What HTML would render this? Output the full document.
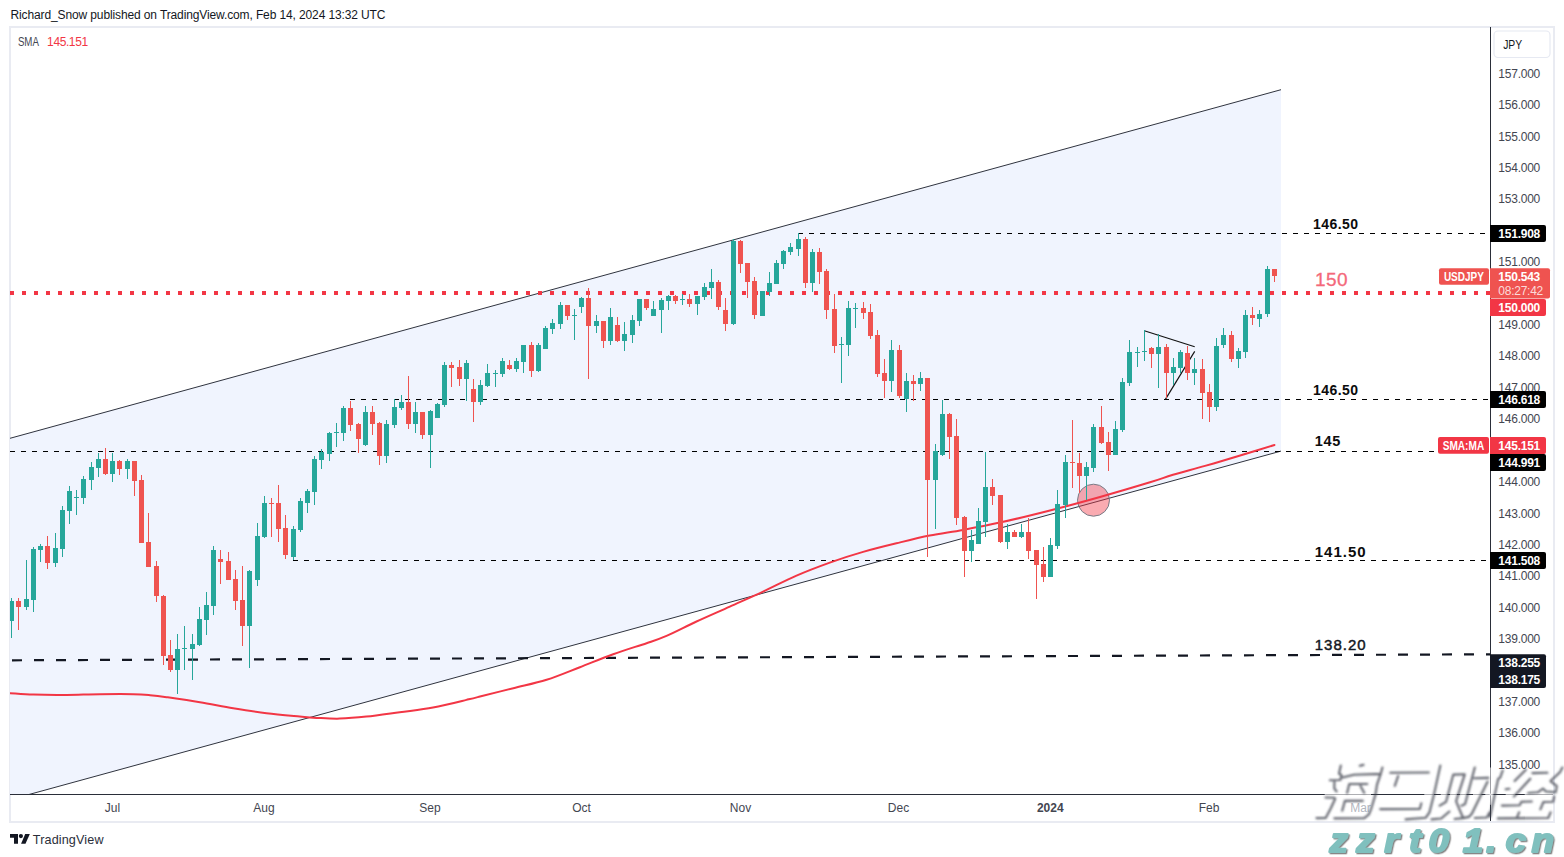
<!DOCTYPE html><html><head><meta charset="utf-8"><title>USDJPY</title>
<style>html,body{margin:0;padding:0;background:#fff;}svg{display:block;}text{font-family:"Liberation Sans",sans-serif;}</style></head><body>
<svg width="1564" height="857" viewBox="0 0 1564 857">
<defs><clipPath id="pane"><rect x="10" y="28" width="1480.5" height="766.5"/></clipPath>
<filter id="ds" x="-5%" y="-10%" width="110%" height="130%"><feDropShadow dx="1.5" dy="1.5" stdDeviation="0.9" flood-color="#4a4d57" flood-opacity="0.8"/></filter>
<filter id="ds2" x="-5%" y="-20%" width="110%" height="150%"><feDropShadow dx="1.3" dy="1.3" stdDeviation="0.6" flood-color="#555" flood-opacity="0.7"/></filter>
<filter id="blur1" x="-5%" y="-10%" width="110%" height="120%"><feGaussianBlur stdDeviation="0.8"/></filter>
</defs>
<rect width="1564" height="857" fill="#fff"/>
<rect x="10" y="27" width="1544" height="795" fill="none" stroke="#e9ebf2" stroke-width="2"/>
<text x="10.5" y="19.2" font-size="12" fill="#131722" textLength="375" lengthAdjust="spacing">Richard_Snow published on TradingView.com, Feb 14, 2024 13:32 UTC</text>
<g clip-path="url(#pane)">
<polygon points="10,438.3 1281,89.7 1281,451.1 10,799.7" fill="#f0f4fe"/>
<line x1="10" y1="438.3" x2="1281" y2="89.7" stroke="#2f333e" stroke-width="1"/>
<line x1="10" y1="799.7" x2="1281" y2="451.1" stroke="#2f333e" stroke-width="1"/>
<line x1="798" y1="233.5" x2="1491" y2="233.5" stroke="#000" stroke-width="1.2" stroke-dasharray="5 6"/>
<line x1="350" y1="399.5" x2="1491" y2="399.5" stroke="#000" stroke-width="1.2" stroke-dasharray="5 6"/>
<line x1="10" y1="451.5" x2="1491" y2="451.5" stroke="#000" stroke-width="1.2" stroke-dasharray="5 6"/>
<line x1="293" y1="560.5" x2="1491" y2="560.5" stroke="#000" stroke-width="1.2" stroke-dasharray="5 6"/>
<line x1="-10" y1="660.4" x2="1491" y2="654.3" stroke="#131722" stroke-width="2.2" stroke-dasharray="10 12"/>
<line x1="10" y1="293" x2="1491" y2="293" stroke="#f23645" stroke-width="4" stroke-dasharray="4 8"/>
<circle cx="1093.5" cy="500.2" r="16" fill="#f23645" fill-opacity="0.42" stroke="#787b86" stroke-width="1"/>
<path d="M10.0,693.2 C13.9,693.4 23.9,694.3 33.3,694.6 C42.7,694.9 55.5,695.0 66.6,694.9 C77.7,694.8 88.9,694.3 100.0,694.2 C111.1,694.1 124.9,694.0 133.2,694.2 C141.5,694.4 144.4,694.7 150.0,695.2 C155.6,695.7 158.3,696.0 166.6,697.2 C174.9,698.4 188.8,700.4 199.9,702.2 C211.0,704.0 222.1,706.4 233.2,708.2 C244.3,710.0 255.4,711.8 266.5,713.2 C277.6,714.6 291.5,715.8 299.8,716.6 C308.1,717.4 309.8,717.6 316.5,717.9 C323.2,718.2 331.5,718.8 339.8,718.6 C348.1,718.4 356.4,717.7 366.4,716.6 C376.4,715.5 388.6,713.7 399.7,712.2 C410.8,710.7 421.9,709.7 433.0,707.6 C444.1,705.5 458.6,701.8 466.4,699.9 C474.2,698.0 472.2,698.5 480.0,696.5 C487.8,694.5 502.2,691.0 513.3,688.2 C524.4,685.4 535.5,683.3 546.6,679.8 C557.7,676.3 568.8,671.5 579.9,667.2 C591.0,662.9 602.1,658.2 613.2,654.2 C624.3,650.2 637.7,646.2 646.6,643.2 C655.5,640.2 658.2,639.5 666.5,635.9 C674.8,632.3 686.0,626.4 696.5,621.5 C707.0,616.6 718.7,611.6 729.8,606.6 C740.9,601.6 752.0,596.8 763.1,591.6 C774.2,586.4 785.4,580.4 796.5,575.6 C807.6,570.8 818.7,566.6 829.8,562.6 C840.9,558.6 852.0,555.1 863.1,551.9 C874.2,548.7 885.3,546.0 896.4,543.3 C907.5,540.6 918.6,537.8 929.7,535.6 C940.8,533.4 951.1,532.1 963.0,529.9 C974.9,527.7 986.5,525.5 1001.0,522.3 C1015.5,519.1 1033.5,514.7 1050.0,510.5 C1066.5,506.3 1083.3,501.7 1100.0,497.0 C1116.7,492.3 1137.8,486.0 1150.0,482.3 C1162.2,478.6 1163.8,477.5 1173.0,474.8 C1182.2,472.1 1194.2,469.0 1205.0,465.9 C1215.8,462.8 1226.1,459.8 1237.7,456.3 C1249.3,452.8 1268.4,446.9 1274.5,445.0" fill="none" stroke="#f23645" stroke-width="2" stroke-linejoin="round" stroke-linecap="round"/>
<line x1="1144.3" y1="330.8" x2="1194.7" y2="346.8" stroke="#111" stroke-width="1.15"/>
<line x1="1165.4" y1="399.4" x2="1194.7" y2="351.4" stroke="#111" stroke-width="1.15"/>
<rect x="11" y="598" width="1" height="40" fill="#26a69a"/>
<rect x="9" y="601" width="5" height="20" fill="#26a69a"/>
<rect x="18" y="598" width="1" height="32" fill="#ef5350"/>
<rect x="16" y="601" width="5" height="6" fill="#ef5350"/>
<rect x="26" y="560" width="1" height="50" fill="#26a69a"/>
<rect x="24" y="599" width="5" height="8" fill="#26a69a"/>
<rect x="33" y="547" width="1" height="65" fill="#26a69a"/>
<rect x="31" y="549" width="5" height="51" fill="#26a69a"/>
<rect x="40" y="544" width="1" height="18" fill="#26a69a"/>
<rect x="38" y="546" width="5" height="4" fill="#26a69a"/>
<rect x="47" y="536" width="1" height="33" fill="#ef5350"/>
<rect x="45" y="546" width="5" height="17" fill="#ef5350"/>
<rect x="55" y="533" width="1" height="34" fill="#26a69a"/>
<rect x="53" y="548" width="5" height="15" fill="#26a69a"/>
<rect x="62" y="506" width="1" height="51" fill="#26a69a"/>
<rect x="60" y="510" width="5" height="39" fill="#26a69a"/>
<rect x="69" y="486" width="1" height="38" fill="#26a69a"/>
<rect x="67" y="491" width="5" height="20" fill="#26a69a"/>
<rect x="76" y="490" width="1" height="25" fill="#26a69a"/>
<rect x="74" y="497" width="5" height="1" fill="#26a69a"/>
<rect x="83" y="476" width="1" height="28" fill="#26a69a"/>
<rect x="81" y="479" width="5" height="19" fill="#26a69a"/>
<rect x="91" y="462" width="1" height="28" fill="#26a69a"/>
<rect x="89" y="467" width="5" height="13" fill="#26a69a"/>
<rect x="98" y="453" width="1" height="24" fill="#26a69a"/>
<rect x="96" y="459" width="5" height="9" fill="#26a69a"/>
<rect x="105" y="448" width="1" height="27" fill="#ef5350"/>
<rect x="103" y="459" width="5" height="15" fill="#ef5350"/>
<rect x="112" y="453" width="1" height="29" fill="#26a69a"/>
<rect x="110" y="461" width="5" height="13" fill="#26a69a"/>
<rect x="119" y="460" width="1" height="15" fill="#ef5350"/>
<rect x="117" y="461" width="5" height="8" fill="#ef5350"/>
<rect x="127" y="459" width="1" height="20" fill="#26a69a"/>
<rect x="125" y="461" width="5" height="8" fill="#26a69a"/>
<rect x="134" y="461" width="1" height="35" fill="#ef5350"/>
<rect x="132" y="461" width="5" height="20" fill="#ef5350"/>
<rect x="141" y="475" width="1" height="68" fill="#ef5350"/>
<rect x="139" y="480" width="5" height="63" fill="#ef5350"/>
<rect x="148" y="513" width="1" height="54" fill="#ef5350"/>
<rect x="146" y="542" width="5" height="25" fill="#ef5350"/>
<rect x="156" y="561" width="1" height="41" fill="#ef5350"/>
<rect x="154" y="566" width="5" height="30" fill="#ef5350"/>
<rect x="163" y="595" width="1" height="70" fill="#ef5350"/>
<rect x="161" y="596" width="5" height="60" fill="#ef5350"/>
<rect x="170" y="640" width="1" height="32" fill="#ef5350"/>
<rect x="168" y="655" width="5" height="15" fill="#ef5350"/>
<rect x="177" y="634" width="1" height="60" fill="#26a69a"/>
<rect x="175" y="649" width="5" height="21" fill="#26a69a"/>
<rect x="184" y="626" width="1" height="44" fill="#26a69a"/>
<rect x="182" y="648" width="5" height="1" fill="#26a69a"/>
<rect x="192" y="634" width="1" height="46" fill="#26a69a"/>
<rect x="190" y="644" width="5" height="5" fill="#26a69a"/>
<rect x="199" y="607" width="1" height="39" fill="#26a69a"/>
<rect x="197" y="619" width="5" height="26" fill="#26a69a"/>
<rect x="206" y="592" width="1" height="43" fill="#26a69a"/>
<rect x="204" y="605" width="5" height="15" fill="#26a69a"/>
<rect x="213" y="546" width="1" height="69" fill="#26a69a"/>
<rect x="211" y="550" width="5" height="56" fill="#26a69a"/>
<rect x="220" y="550" width="1" height="34" fill="#ef5350"/>
<rect x="218" y="559" width="5" height="3" fill="#ef5350"/>
<rect x="228" y="552" width="1" height="28" fill="#ef5350"/>
<rect x="226" y="561" width="5" height="19" fill="#ef5350"/>
<rect x="235" y="570" width="1" height="40" fill="#ef5350"/>
<rect x="233" y="579" width="5" height="22" fill="#ef5350"/>
<rect x="242" y="566" width="1" height="80" fill="#ef5350"/>
<rect x="240" y="600" width="5" height="26" fill="#ef5350"/>
<rect x="249" y="570" width="1" height="98" fill="#26a69a"/>
<rect x="247" y="571" width="5" height="55" fill="#26a69a"/>
<rect x="257" y="523" width="1" height="63" fill="#26a69a"/>
<rect x="255" y="536" width="5" height="44" fill="#26a69a"/>
<rect x="264" y="496" width="1" height="42" fill="#26a69a"/>
<rect x="262" y="503" width="5" height="34" fill="#26a69a"/>
<rect x="271" y="498" width="1" height="39" fill="#ef5350"/>
<rect x="269" y="503" width="5" height="1" fill="#ef5350"/>
<rect x="278" y="485" width="1" height="57" fill="#ef5350"/>
<rect x="276" y="503" width="5" height="26" fill="#ef5350"/>
<rect x="285" y="515" width="1" height="44" fill="#ef5350"/>
<rect x="283" y="528" width="5" height="27" fill="#ef5350"/>
<rect x="293" y="526" width="1" height="34" fill="#26a69a"/>
<rect x="291" y="529" width="5" height="28" fill="#26a69a"/>
<rect x="300" y="498" width="1" height="34" fill="#26a69a"/>
<rect x="298" y="501" width="5" height="29" fill="#26a69a"/>
<rect x="307" y="489" width="1" height="24" fill="#26a69a"/>
<rect x="305" y="491" width="5" height="12" fill="#26a69a"/>
<rect x="314" y="456" width="1" height="49" fill="#26a69a"/>
<rect x="312" y="459" width="5" height="33" fill="#26a69a"/>
<rect x="321" y="449" width="1" height="20" fill="#26a69a"/>
<rect x="319" y="452" width="5" height="8" fill="#26a69a"/>
<rect x="329" y="432" width="1" height="29" fill="#26a69a"/>
<rect x="327" y="433" width="5" height="21" fill="#26a69a"/>
<rect x="336" y="423" width="1" height="24" fill="#26a69a"/>
<rect x="334" y="432" width="5" height="1" fill="#26a69a"/>
<rect x="343" y="406" width="1" height="35" fill="#26a69a"/>
<rect x="341" y="408" width="5" height="25" fill="#26a69a"/>
<rect x="350" y="401" width="1" height="30" fill="#ef5350"/>
<rect x="348" y="408" width="5" height="17" fill="#ef5350"/>
<rect x="358" y="423" width="1" height="30" fill="#ef5350"/>
<rect x="356" y="424" width="5" height="15" fill="#ef5350"/>
<rect x="365" y="406" width="1" height="40" fill="#26a69a"/>
<rect x="363" y="412" width="5" height="33" fill="#26a69a"/>
<rect x="372" y="406" width="1" height="29" fill="#ef5350"/>
<rect x="370" y="412" width="5" height="12" fill="#ef5350"/>
<rect x="379" y="422" width="1" height="43" fill="#ef5350"/>
<rect x="377" y="423" width="5" height="33" fill="#ef5350"/>
<rect x="386" y="420" width="1" height="43" fill="#26a69a"/>
<rect x="384" y="424" width="5" height="32" fill="#26a69a"/>
<rect x="394" y="399" width="1" height="29" fill="#26a69a"/>
<rect x="392" y="407" width="5" height="18" fill="#26a69a"/>
<rect x="401" y="395" width="1" height="15" fill="#26a69a"/>
<rect x="399" y="402" width="5" height="6" fill="#26a69a"/>
<rect x="408" y="376" width="1" height="53" fill="#ef5350"/>
<rect x="406" y="402" width="5" height="22" fill="#ef5350"/>
<rect x="415" y="402" width="1" height="31" fill="#26a69a"/>
<rect x="413" y="412" width="5" height="12" fill="#26a69a"/>
<rect x="422" y="412" width="1" height="27" fill="#ef5350"/>
<rect x="420" y="412" width="5" height="23" fill="#ef5350"/>
<rect x="430" y="410" width="1" height="58" fill="#26a69a"/>
<rect x="428" y="411" width="5" height="24" fill="#26a69a"/>
<rect x="437" y="403" width="1" height="15" fill="#26a69a"/>
<rect x="435" y="404" width="5" height="14" fill="#26a69a"/>
<rect x="444" y="362" width="1" height="45" fill="#26a69a"/>
<rect x="442" y="365" width="5" height="40" fill="#26a69a"/>
<rect x="451" y="362" width="1" height="25" fill="#ef5350"/>
<rect x="449" y="365" width="5" height="3" fill="#ef5350"/>
<rect x="459" y="360" width="1" height="26" fill="#ef5350"/>
<rect x="457" y="367" width="5" height="12" fill="#ef5350"/>
<rect x="466" y="360" width="1" height="41" fill="#26a69a"/>
<rect x="464" y="363" width="5" height="16" fill="#26a69a"/>
<rect x="473" y="379" width="1" height="43" fill="#ef5350"/>
<rect x="471" y="389" width="5" height="13" fill="#ef5350"/>
<rect x="480" y="380" width="1" height="25" fill="#26a69a"/>
<rect x="478" y="385" width="5" height="17" fill="#26a69a"/>
<rect x="487" y="364" width="1" height="23" fill="#26a69a"/>
<rect x="485" y="373" width="5" height="13" fill="#26a69a"/>
<rect x="495" y="370" width="1" height="17" fill="#26a69a"/>
<rect x="493" y="373" width="5" height="1" fill="#26a69a"/>
<rect x="502" y="358" width="1" height="19" fill="#26a69a"/>
<rect x="500" y="361" width="5" height="13" fill="#26a69a"/>
<rect x="509" y="360" width="1" height="10" fill="#ef5350"/>
<rect x="507" y="365" width="5" height="4" fill="#ef5350"/>
<rect x="516" y="358" width="1" height="14" fill="#26a69a"/>
<rect x="514" y="361" width="5" height="8" fill="#26a69a"/>
<rect x="523" y="345" width="1" height="28" fill="#26a69a"/>
<rect x="521" y="345" width="5" height="17" fill="#26a69a"/>
<rect x="531" y="342" width="1" height="35" fill="#ef5350"/>
<rect x="529" y="345" width="5" height="26" fill="#ef5350"/>
<rect x="538" y="343" width="1" height="29" fill="#26a69a"/>
<rect x="536" y="345" width="5" height="26" fill="#26a69a"/>
<rect x="545" y="326" width="1" height="23" fill="#26a69a"/>
<rect x="543" y="328" width="5" height="21" fill="#26a69a"/>
<rect x="552" y="319" width="1" height="15" fill="#26a69a"/>
<rect x="550" y="323" width="5" height="6" fill="#26a69a"/>
<rect x="560" y="302" width="1" height="27" fill="#26a69a"/>
<rect x="558" y="305" width="5" height="19" fill="#26a69a"/>
<rect x="567" y="305" width="1" height="15" fill="#ef5350"/>
<rect x="565" y="305" width="5" height="11" fill="#ef5350"/>
<rect x="574" y="309" width="1" height="31" fill="#26a69a"/>
<rect x="572" y="315" width="5" height="1" fill="#26a69a"/>
<rect x="581" y="297" width="1" height="16" fill="#26a69a"/>
<rect x="579" y="298" width="5" height="9" fill="#26a69a"/>
<rect x="588" y="288" width="1" height="91" fill="#ef5350"/>
<rect x="586" y="298" width="5" height="28" fill="#ef5350"/>
<rect x="596" y="315" width="1" height="18" fill="#26a69a"/>
<rect x="594" y="321" width="5" height="5" fill="#26a69a"/>
<rect x="603" y="321" width="1" height="27" fill="#ef5350"/>
<rect x="601" y="321" width="5" height="20" fill="#ef5350"/>
<rect x="610" y="308" width="1" height="37" fill="#26a69a"/>
<rect x="608" y="317" width="5" height="24" fill="#26a69a"/>
<rect x="617" y="317" width="1" height="25" fill="#ef5350"/>
<rect x="615" y="325" width="5" height="16" fill="#ef5350"/>
<rect x="624" y="322" width="1" height="29" fill="#26a69a"/>
<rect x="622" y="334" width="5" height="7" fill="#26a69a"/>
<rect x="632" y="315" width="1" height="28" fill="#26a69a"/>
<rect x="630" y="320" width="5" height="15" fill="#26a69a"/>
<rect x="639" y="299" width="1" height="27" fill="#26a69a"/>
<rect x="637" y="299" width="5" height="22" fill="#26a69a"/>
<rect x="646" y="299" width="1" height="11" fill="#ef5350"/>
<rect x="644" y="299" width="5" height="9" fill="#ef5350"/>
<rect x="653" y="301" width="1" height="15" fill="#26a69a"/>
<rect x="651" y="309" width="5" height="7" fill="#26a69a"/>
<rect x="661" y="298" width="1" height="35" fill="#26a69a"/>
<rect x="659" y="300" width="5" height="10" fill="#26a69a"/>
<rect x="668" y="295" width="1" height="15" fill="#26a69a"/>
<rect x="666" y="296" width="5" height="5" fill="#26a69a"/>
<rect x="675" y="295" width="1" height="9" fill="#ef5350"/>
<rect x="673" y="296" width="5" height="5" fill="#ef5350"/>
<rect x="682" y="294" width="1" height="11" fill="#26a69a"/>
<rect x="680" y="299" width="5" height="1" fill="#26a69a"/>
<rect x="689" y="294" width="1" height="13" fill="#ef5350"/>
<rect x="687" y="299" width="5" height="5" fill="#ef5350"/>
<rect x="697" y="296" width="1" height="19" fill="#26a69a"/>
<rect x="695" y="296" width="5" height="8" fill="#26a69a"/>
<rect x="704" y="283" width="1" height="17" fill="#26a69a"/>
<rect x="702" y="287" width="5" height="10" fill="#26a69a"/>
<rect x="711" y="269" width="1" height="30" fill="#26a69a"/>
<rect x="709" y="282" width="5" height="6" fill="#26a69a"/>
<rect x="718" y="280" width="1" height="30" fill="#ef5350"/>
<rect x="716" y="282" width="5" height="25" fill="#ef5350"/>
<rect x="725" y="298" width="1" height="33" fill="#ef5350"/>
<rect x="723" y="310" width="5" height="14" fill="#ef5350"/>
<rect x="733" y="239" width="1" height="86" fill="#26a69a"/>
<rect x="731" y="241" width="5" height="83" fill="#26a69a"/>
<rect x="740" y="240" width="1" height="33" fill="#ef5350"/>
<rect x="738" y="241" width="5" height="23" fill="#ef5350"/>
<rect x="747" y="263" width="1" height="35" fill="#ef5350"/>
<rect x="745" y="263" width="5" height="19" fill="#ef5350"/>
<rect x="754" y="277" width="1" height="42" fill="#ef5350"/>
<rect x="752" y="281" width="5" height="34" fill="#ef5350"/>
<rect x="762" y="291" width="1" height="25" fill="#26a69a"/>
<rect x="760" y="291" width="5" height="25" fill="#26a69a"/>
<rect x="769" y="272" width="1" height="24" fill="#26a69a"/>
<rect x="767" y="283" width="5" height="9" fill="#26a69a"/>
<rect x="776" y="260" width="1" height="24" fill="#26a69a"/>
<rect x="774" y="263" width="5" height="21" fill="#26a69a"/>
<rect x="783" y="250" width="1" height="19" fill="#26a69a"/>
<rect x="781" y="251" width="5" height="13" fill="#26a69a"/>
<rect x="790" y="243" width="1" height="12" fill="#26a69a"/>
<rect x="788" y="247" width="5" height="5" fill="#26a69a"/>
<rect x="798" y="233" width="1" height="23" fill="#26a69a"/>
<rect x="796" y="239" width="5" height="10" fill="#26a69a"/>
<rect x="805" y="237" width="1" height="51" fill="#ef5350"/>
<rect x="803" y="239" width="5" height="44" fill="#ef5350"/>
<rect x="812" y="249" width="1" height="43" fill="#26a69a"/>
<rect x="810" y="252" width="5" height="31" fill="#26a69a"/>
<rect x="819" y="248" width="1" height="36" fill="#ef5350"/>
<rect x="817" y="252" width="5" height="20" fill="#ef5350"/>
<rect x="826" y="269" width="1" height="50" fill="#ef5350"/>
<rect x="824" y="271" width="5" height="39" fill="#ef5350"/>
<rect x="834" y="294" width="1" height="59" fill="#ef5350"/>
<rect x="832" y="309" width="5" height="37" fill="#ef5350"/>
<rect x="841" y="337" width="1" height="46" fill="#26a69a"/>
<rect x="839" y="344" width="5" height="1" fill="#26a69a"/>
<rect x="848" y="301" width="1" height="55" fill="#26a69a"/>
<rect x="846" y="308" width="5" height="37" fill="#26a69a"/>
<rect x="855" y="303" width="1" height="25" fill="#26a69a"/>
<rect x="853" y="308" width="5" height="1" fill="#26a69a"/>
<rect x="863" y="302" width="1" height="17" fill="#ef5350"/>
<rect x="861" y="308" width="5" height="5" fill="#ef5350"/>
<rect x="870" y="304" width="1" height="35" fill="#ef5350"/>
<rect x="868" y="312" width="5" height="24" fill="#ef5350"/>
<rect x="877" y="330" width="1" height="47" fill="#ef5350"/>
<rect x="875" y="335" width="5" height="39" fill="#ef5350"/>
<rect x="884" y="359" width="1" height="39" fill="#ef5350"/>
<rect x="882" y="373" width="5" height="8" fill="#ef5350"/>
<rect x="891" y="340" width="1" height="52" fill="#26a69a"/>
<rect x="889" y="350" width="5" height="31" fill="#26a69a"/>
<rect x="899" y="345" width="1" height="53" fill="#ef5350"/>
<rect x="897" y="350" width="5" height="46" fill="#ef5350"/>
<rect x="906" y="373" width="1" height="39" fill="#26a69a"/>
<rect x="904" y="381" width="5" height="18" fill="#26a69a"/>
<rect x="913" y="375" width="1" height="26" fill="#ef5350"/>
<rect x="911" y="381" width="5" height="3" fill="#ef5350"/>
<rect x="920" y="372" width="1" height="19" fill="#26a69a"/>
<rect x="918" y="378" width="5" height="6" fill="#26a69a"/>
<rect x="927" y="378" width="1" height="179" fill="#ef5350"/>
<rect x="925" y="378" width="5" height="102" fill="#ef5350"/>
<rect x="935" y="444" width="1" height="85" fill="#26a69a"/>
<rect x="933" y="451" width="5" height="29" fill="#26a69a"/>
<rect x="942" y="400" width="1" height="56" fill="#26a69a"/>
<rect x="940" y="414" width="5" height="41" fill="#26a69a"/>
<rect x="949" y="413" width="1" height="46" fill="#ef5350"/>
<rect x="947" y="414" width="5" height="23" fill="#ef5350"/>
<rect x="956" y="419" width="1" height="106" fill="#ef5350"/>
<rect x="954" y="436" width="5" height="82" fill="#ef5350"/>
<rect x="964" y="516" width="1" height="61" fill="#ef5350"/>
<rect x="962" y="517" width="5" height="34" fill="#ef5350"/>
<rect x="971" y="530" width="1" height="32" fill="#26a69a"/>
<rect x="969" y="540" width="5" height="11" fill="#26a69a"/>
<rect x="978" y="508" width="1" height="36" fill="#26a69a"/>
<rect x="976" y="521" width="5" height="23" fill="#26a69a"/>
<rect x="985" y="452" width="1" height="85" fill="#26a69a"/>
<rect x="983" y="487" width="5" height="35" fill="#26a69a"/>
<rect x="992" y="479" width="1" height="26" fill="#ef5350"/>
<rect x="990" y="487" width="5" height="9" fill="#ef5350"/>
<rect x="1000" y="495" width="1" height="48" fill="#ef5350"/>
<rect x="998" y="495" width="5" height="47" fill="#ef5350"/>
<rect x="1007" y="524" width="1" height="25" fill="#26a69a"/>
<rect x="1005" y="532" width="5" height="10" fill="#26a69a"/>
<rect x="1014" y="530" width="1" height="7" fill="#ef5350"/>
<rect x="1012" y="532" width="5" height="5" fill="#ef5350"/>
<rect x="1021" y="524" width="1" height="14" fill="#26a69a"/>
<rect x="1019" y="532" width="5" height="5" fill="#26a69a"/>
<rect x="1028" y="518" width="1" height="41" fill="#ef5350"/>
<rect x="1026" y="532" width="5" height="19" fill="#ef5350"/>
<rect x="1036" y="550" width="1" height="49" fill="#ef5350"/>
<rect x="1034" y="550" width="5" height="15" fill="#ef5350"/>
<rect x="1043" y="547" width="1" height="35" fill="#ef5350"/>
<rect x="1041" y="564" width="5" height="13" fill="#ef5350"/>
<rect x="1050" y="538" width="1" height="39" fill="#26a69a"/>
<rect x="1048" y="545" width="5" height="32" fill="#26a69a"/>
<rect x="1057" y="490" width="1" height="59" fill="#26a69a"/>
<rect x="1055" y="504" width="5" height="42" fill="#26a69a"/>
<rect x="1065" y="455" width="1" height="63" fill="#26a69a"/>
<rect x="1063" y="462" width="5" height="43" fill="#26a69a"/>
<rect x="1072" y="420" width="1" height="68" fill="#ef5350"/>
<rect x="1070" y="462" width="5" height="1" fill="#ef5350"/>
<rect x="1079" y="453" width="1" height="40" fill="#ef5350"/>
<rect x="1077" y="463" width="5" height="13" fill="#ef5350"/>
<rect x="1086" y="462" width="1" height="38" fill="#26a69a"/>
<rect x="1084" y="467" width="5" height="9" fill="#26a69a"/>
<rect x="1093" y="424" width="1" height="48" fill="#26a69a"/>
<rect x="1091" y="427" width="5" height="41" fill="#26a69a"/>
<rect x="1101" y="406" width="1" height="38" fill="#ef5350"/>
<rect x="1099" y="427" width="5" height="16" fill="#ef5350"/>
<rect x="1108" y="432" width="1" height="39" fill="#ef5350"/>
<rect x="1106" y="442" width="5" height="13" fill="#ef5350"/>
<rect x="1115" y="421" width="1" height="34" fill="#26a69a"/>
<rect x="1113" y="429" width="5" height="26" fill="#26a69a"/>
<rect x="1122" y="378" width="1" height="54" fill="#26a69a"/>
<rect x="1120" y="382" width="5" height="48" fill="#26a69a"/>
<rect x="1129" y="340" width="1" height="46" fill="#26a69a"/>
<rect x="1127" y="352" width="5" height="31" fill="#26a69a"/>
<rect x="1137" y="347" width="1" height="20" fill="#26a69a"/>
<rect x="1135" y="352" width="5" height="1" fill="#26a69a"/>
<rect x="1144" y="330" width="1" height="31" fill="#26a69a"/>
<rect x="1142" y="351" width="5" height="1" fill="#26a69a"/>
<rect x="1151" y="347" width="1" height="21" fill="#ef5350"/>
<rect x="1149" y="348" width="5" height="6" fill="#ef5350"/>
<rect x="1158" y="334" width="1" height="54" fill="#26a69a"/>
<rect x="1156" y="347" width="5" height="7" fill="#26a69a"/>
<rect x="1166" y="344" width="1" height="54" fill="#ef5350"/>
<rect x="1164" y="347" width="5" height="26" fill="#ef5350"/>
<rect x="1173" y="358" width="1" height="27" fill="#26a69a"/>
<rect x="1171" y="367" width="5" height="6" fill="#26a69a"/>
<rect x="1180" y="350" width="1" height="23" fill="#26a69a"/>
<rect x="1178" y="352" width="5" height="16" fill="#26a69a"/>
<rect x="1187" y="346" width="1" height="34" fill="#ef5350"/>
<rect x="1185" y="353" width="5" height="20" fill="#ef5350"/>
<rect x="1194" y="358" width="1" height="27" fill="#26a69a"/>
<rect x="1192" y="369" width="5" height="4" fill="#26a69a"/>
<rect x="1202" y="359" width="1" height="60" fill="#ef5350"/>
<rect x="1200" y="369" width="5" height="24" fill="#ef5350"/>
<rect x="1209" y="384" width="1" height="38" fill="#ef5350"/>
<rect x="1207" y="392" width="5" height="15" fill="#ef5350"/>
<rect x="1216" y="338" width="1" height="73" fill="#26a69a"/>
<rect x="1214" y="346" width="5" height="61" fill="#26a69a"/>
<rect x="1223" y="328" width="1" height="20" fill="#26a69a"/>
<rect x="1221" y="335" width="5" height="10" fill="#26a69a"/>
<rect x="1231" y="331" width="1" height="31" fill="#ef5350"/>
<rect x="1229" y="335" width="5" height="24" fill="#ef5350"/>
<rect x="1238" y="348" width="1" height="20" fill="#26a69a"/>
<rect x="1236" y="351" width="5" height="8" fill="#26a69a"/>
<rect x="1245" y="310" width="1" height="48" fill="#26a69a"/>
<rect x="1243" y="315" width="5" height="37" fill="#26a69a"/>
<rect x="1252" y="307" width="1" height="18" fill="#ef5350"/>
<rect x="1250" y="315" width="5" height="3" fill="#ef5350"/>
<rect x="1259" y="310" width="1" height="17" fill="#26a69a"/>
<rect x="1257" y="314" width="5" height="5" fill="#26a69a"/>
<rect x="1267" y="266" width="1" height="51" fill="#26a69a"/>
<rect x="1265" y="269" width="5" height="45" fill="#26a69a"/>
<rect x="1274" y="269" width="1" height="13" fill="#ef5350"/>
<rect x="1272" y="269" width="5" height="7" fill="#ef5350"/>
</g>
<text x="1313.1" y="228.9" font-size="14" font-weight="bold" fill="#0c0c0c" textLength="45" lengthAdjust="spacing">146.50</text>
<text x="1313.1" y="394.9" font-size="14" font-weight="bold" fill="#0c0c0c" textLength="45" lengthAdjust="spacing">146.50</text>
<text x="1314.7" y="445.8" font-size="14.5" font-weight="bold" fill="#0c0c0c" textLength="25.7" lengthAdjust="spacing">145</text>
<text x="1314.7" y="556.9" font-size="15" font-weight="bold" fill="#0c0c0c" textLength="51" lengthAdjust="spacing">141.50</text>
<text x="1314.7" y="649.9" font-size="15" font-weight="normal" fill="#131722" textLength="51" lengthAdjust="spacing" stroke="#131722" stroke-width="0.45">138.20</text>
<text x="1315" y="285.8" font-size="19" font-weight="normal" fill="#f4687a" textLength="32.6" lengthAdjust="spacing" stroke="#f4687a" stroke-width="0.3">150</text>
<text x="17.9" y="45.8" font-size="12" fill="#434651" textLength="21" lengthAdjust="spacingAndGlyphs">SMA</text>
<text x="47.1" y="45.8" font-size="12" fill="#f23645" textLength="41">145.151</text>
<rect x="1491" y="28" width="62" height="766" fill="#fff"/>
<line x1="1490.5" y1="27" x2="1490.5" y2="821" stroke="#2a2e39" stroke-width="1"/>
<line x1="10" y1="794.5" x2="1553" y2="794.5" stroke="#2a2e39" stroke-width="1"/>
<rect x="1494" y="31" width="56" height="26.5" rx="4" fill="#fff" stroke="#e6e9f2" stroke-width="1.2"/>
<text x="1503.2" y="48.9" font-size="12.4" fill="#131722" textLength="19" lengthAdjust="spacingAndGlyphs">JPY</text>
<text x="1498.3" y="768.8" font-size="12" fill="#434651" textLength="42" lengthAdjust="spacing">135.000</text>
<text x="1498.3" y="737.4" font-size="12" fill="#434651" textLength="42" lengthAdjust="spacing">136.000</text>
<text x="1498.3" y="706.0" font-size="12" fill="#434651" textLength="42" lengthAdjust="spacing">137.000</text>
<text x="1498.3" y="674.5" font-size="12" fill="#434651" textLength="42" lengthAdjust="spacing">138.000</text>
<text x="1498.3" y="643.1" font-size="12" fill="#434651" textLength="42" lengthAdjust="spacing">139.000</text>
<text x="1498.3" y="611.7" font-size="12" fill="#434651" textLength="42" lengthAdjust="spacing">140.000</text>
<text x="1498.3" y="580.3" font-size="12" fill="#434651" textLength="42" lengthAdjust="spacing">141.000</text>
<text x="1498.3" y="548.9" font-size="12" fill="#434651" textLength="42" lengthAdjust="spacing">142.000</text>
<text x="1498.3" y="517.5" font-size="12" fill="#434651" textLength="42" lengthAdjust="spacing">143.000</text>
<text x="1498.3" y="486.1" font-size="12" fill="#434651" textLength="42" lengthAdjust="spacing">144.000</text>
<text x="1498.3" y="454.7" font-size="12" fill="#434651" textLength="42" lengthAdjust="spacing">145.000</text>
<text x="1498.3" y="423.3" font-size="12" fill="#434651" textLength="42" lengthAdjust="spacing">146.000</text>
<text x="1498.3" y="391.9" font-size="12" fill="#434651" textLength="42" lengthAdjust="spacing">147.000</text>
<text x="1498.3" y="360.4" font-size="12" fill="#434651" textLength="42" lengthAdjust="spacing">148.000</text>
<text x="1498.3" y="329.0" font-size="12" fill="#434651" textLength="42" lengthAdjust="spacing">149.000</text>
<text x="1498.3" y="297.6" font-size="12" fill="#434651" textLength="42" lengthAdjust="spacing">150.000</text>
<text x="1498.3" y="266.2" font-size="12" fill="#434651" textLength="42" lengthAdjust="spacing">151.000</text>
<text x="1498.3" y="234.8" font-size="12" fill="#434651" textLength="42" lengthAdjust="spacing">152.000</text>
<text x="1498.3" y="203.4" font-size="12" fill="#434651" textLength="42" lengthAdjust="spacing">153.000</text>
<text x="1498.3" y="172.0" font-size="12" fill="#434651" textLength="42" lengthAdjust="spacing">154.000</text>
<text x="1498.3" y="140.6" font-size="12" fill="#434651" textLength="42" lengthAdjust="spacing">155.000</text>
<text x="1498.3" y="109.2" font-size="12" fill="#434651" textLength="42" lengthAdjust="spacing">156.000</text>
<text x="1498.3" y="77.8" font-size="12" fill="#434651" textLength="42" lengthAdjust="spacing">157.000</text>
<path d="M1490,225 h54 a2,2 0 0 1 2,2 v13 a2,2 0 0 1 -2,2 h-54 z" fill="#000"/>
<text x="1498.3" y="237.9" font-size="12" font-weight="bold" fill="#fff" textLength="42" lengthAdjust="spacing">151.908</text>
<path d="M1490,268.2 h58 a2,2 0 0 1 2,2 v26.4 a2,2 0 0 1 -2,2 h-58 z" fill="#ef5350"/>
<text x="1498.3" y="281.1" font-size="12" font-weight="bold" fill="#fff" textLength="42" lengthAdjust="spacing">150.543</text>
<text x="1498.3" y="295.1" font-size="12" fill="#fff" fill-opacity="0.8" textLength="45" lengthAdjust="spacing">08:27:42</text>
<path d="M1490,299 h54 a2,2 0 0 1 2,2 v13 a2,2 0 0 1 -2,2 h-54 z" fill="#f23645"/>
<text x="1498.3" y="311.9" font-size="12" font-weight="bold" fill="#fff" textLength="42" lengthAdjust="spacing">150.000</text>
<path d="M1490,391 h54 a2,2 0 0 1 2,2 v13 a2,2 0 0 1 -2,2 h-54 z" fill="#000"/>
<text x="1498.3" y="403.9" font-size="12" font-weight="bold" fill="#fff" textLength="42" lengthAdjust="spacing">146.618</text>
<path d="M1490,437 h54 a2,2 0 0 1 2,2 v13 a2,2 0 0 1 -2,2 h-54 z" fill="#f23645"/>
<text x="1498.3" y="449.9" font-size="12" font-weight="bold" fill="#fff" textLength="42" lengthAdjust="spacing">145.151</text>
<path d="M1490,454 h54 a2,2 0 0 1 2,2 v13 a2,2 0 0 1 -2,2 h-54 z" fill="#000"/>
<text x="1498.3" y="466.9" font-size="12" font-weight="bold" fill="#fff" textLength="42" lengthAdjust="spacing">144.991</text>
<path d="M1490,552 h54 a2,2 0 0 1 2,2 v13 a2,2 0 0 1 -2,2 h-54 z" fill="#000"/>
<text x="1498.3" y="564.9" font-size="12" font-weight="bold" fill="#fff" textLength="42" lengthAdjust="spacing">141.508</text>
<path d="M1490,654.2 h54 a2,2 0 0 1 2,2 v29.7 a2,2 0 0 1 -2,2 h-54 z" fill="#131722"/>
<text x="1498.3" y="667.1" font-size="12" font-weight="bold" fill="#fff" textLength="42" lengthAdjust="spacing">138.255</text>
<text x="1498.3" y="684" font-size="12" font-weight="bold" fill="#fff" textLength="42" lengthAdjust="spacing">138.175</text>
<rect x="1439" y="268.2" width="50" height="16.6" rx="2" fill="#ef5350"/>
<text x="1443.9" y="280.8" font-size="12" font-weight="bold" fill="#fff" textLength="40" lengthAdjust="spacingAndGlyphs">USDJPY</text>
<rect x="1438" y="437" width="51" height="16.8" rx="2" fill="#f23645"/>
<text x="1442.7" y="449.8" font-size="12" font-weight="bold" fill="#fff" textLength="41.5" lengthAdjust="spacingAndGlyphs">SMA:MA</text>
<text x="112.5" y="812" font-size="12" fill="#434651" text-anchor="middle">Jul</text>
<text x="264" y="812" font-size="12" fill="#434651" text-anchor="middle">Aug</text>
<text x="430" y="812" font-size="12" fill="#434651" text-anchor="middle">Sep</text>
<text x="581.5" y="812" font-size="12" fill="#434651" text-anchor="middle">Oct</text>
<text x="740.5" y="812" font-size="12" fill="#434651" text-anchor="middle">Nov</text>
<text x="898.5" y="812" font-size="12" fill="#434651" text-anchor="middle">Dec</text>
<text x="1209" y="812" font-size="12" fill="#434651" text-anchor="middle">Feb</text>
<text x="1050.3" y="812" font-size="12" font-weight="bold" fill="#434651" text-anchor="middle">2024</text>
<text x="1360.5" y="812" font-size="12" fill="#b4b7c0" text-anchor="middle">Mar</text>
<g fill="#131722"><path d="M10,834 h8 v9.8 h-4 v-6 h-4 z"/><circle cx="20.9" cy="836.1" r="2.1"/><path d="M25.2,834 h4.6 l-4.3,9.8 h-4.4 z"/></g>
<text x="32.8" y="843.8" font-size="12.6" fill="#2a2e39" textLength="70.7" lengthAdjust="spacing">TradingView</text>
<rect x="1324.7" y="793.5" width="46.3" height="2" fill="#fff" fill-opacity="0.62"/>
<rect x="1424.3" y="793.5" width="9.7" height="2" fill="#fff" fill-opacity="0.62"/>
<rect x="1440.7" y="793.5" width="6.8" height="2" fill="#fff" fill-opacity="0.62"/>
<rect x="1450" y="793.5" width="6.9" height="2" fill="#fff" fill-opacity="0.62"/>
<rect x="1459.9" y="793.5" width="6.7" height="2" fill="#fff" fill-opacity="0.62"/>
<rect x="1473" y="793.5" width="8.5" height="2" fill="#fff" fill-opacity="0.62"/>
<rect x="1485.3" y="793.5" width="8.2" height="2" fill="#fff" fill-opacity="0.62"/>
<rect x="1505.7" y="793.5" width="9.7" height="2" fill="#fff" fill-opacity="0.62"/>
<rect x="1524.7" y="793.5" width="28.3" height="2" fill="#fff" fill-opacity="0.62"/>
<rect x="1489.5" y="767.5" width="2" height="37.3" fill="#fff" fill-opacity="0.55"/>
<g filter="url(#blur1)" fill="none" stroke="#3c3f4a" stroke-opacity="0.8" stroke-width="2.1" stroke-linejoin="round" stroke-linecap="round">
<path d="M1340.8,765.6 L1339.0,773.8 L1341.5,774.9 L1340.4,780.0 L1329.9,780.3 M1334.4,781.7 L1334.3,788.4 L1336.6,791.5 M1325.4,797.5 L1334.4,797.7 M1335.2,798.8 L1330.7,808.5 L1326.2,817.1 M1316.5,818.1 L1325.8,818.0 M1342.6,777.5 L1353.8,774.7 L1380.7,773.9 L1382.4,767.5 M1359.8,765.7 L1363.5,764.9 M1367.3,784.0 L1349.3,784.0 L1347.1,792.9 M1360.5,786.1 L1364.3,792.9 M1362.8,800.9 L1344.9,800.9 L1342.2,810.8 M1380.7,773.9 L1377.0,784.6 L1375.5,794.4 L1371.0,809.3 L1368.8,814.5 L1364.3,818.1 L1334.4,818.4 M1390.3,772.7 L1428.8,772.5 M1398.1,776.1 L1394.8,785.8 M1440.3,765.6 L1434.0,794.4 L1429.5,812.3 L1425.8,817.7 L1405.6,819.4 M1380.2,809.1 L1419.8,808.9 L1421.3,803.3 M1464.7,774.3 L1453.3,774.6 L1446.1,801.8 L1439.7,805.7 M1464.7,774.6 L1456.1,801.1 L1458.8,807.8 L1462.9,817.5 M1431.5,819.4 L1441.2,818.5 L1449.4,811.5 M1474.8,767.5 L1465.1,804.1 L1461.4,805.7 M1474.1,778.3 L1488.3,777.9 M1487.5,781.7 L1471.8,813.8 L1468.8,816.9 L1462.9,818.1 L1454.6,819.0 M1474.8,818.0 L1486.8,817.5 L1489.7,812.3 M1502.7,770.5 L1500.1,777.9 L1498.2,778.8 L1490.0,816.8 M1525.8,769.7 L1514.6,780.9 M1530.3,778.7 L1513.9,796.6 M1505.7,789.3 L1509.4,788.8 M1532.5,773.1 L1547.5,772.7 M1562.4,767.5 L1560.2,771.9 L1550.5,781.1 L1556.8,786.1 L1555.7,792.3 L1546.0,791.5 L1543.0,788.5 L1537.8,792.3 L1528.1,793.0 M1501.9,805.6 L1519.8,805.2 L1521.3,801.8 L1531.8,801.5 M1554.2,796.6 L1553.1,801.8 L1543.4,802.0 L1540.4,809.4 M1519.1,812.3 L1516.9,817.7 M1497.8,818.4 L1548.2,818.0 L1550.6,812.3"/>
</g>
<g filter="url(#ds2)" font-size="31" font-weight="bold" font-style="italic" fill="#80c0be" stroke="#80c0be" stroke-width="1.7" stroke-linejoin="round">
<text transform="translate(1329.4,852.1) scale(1.19,1.05)" x="0" y="0">z</text>
<text transform="translate(1356.2,852.1) scale(1.19,1.05)" x="0" y="0">z</text>
<text transform="translate(1384.3,852.1) scale(1.19,1.05)" x="0" y="0">r</text>
<text transform="translate(1409,852.1) scale(1.19,1.05)" x="0" y="0">t</text>
<text transform="translate(1428.4,852.1) scale(1.19,1.05)" x="0" y="0">0</text>
<text transform="translate(1462.7,852.1) scale(1.19,1.05)" x="0" y="0">1</text>
<text transform="translate(1486,852.1) scale(1.19,1.05)" x="0" y="0">.</text>
<text transform="translate(1505.6,852.1) scale(1.19,1.05)" x="0" y="0">c</text>
<text transform="translate(1531.4,852.1) scale(1.19,1.05)" x="0" y="0">n</text>
</g>
</svg></body></html>
